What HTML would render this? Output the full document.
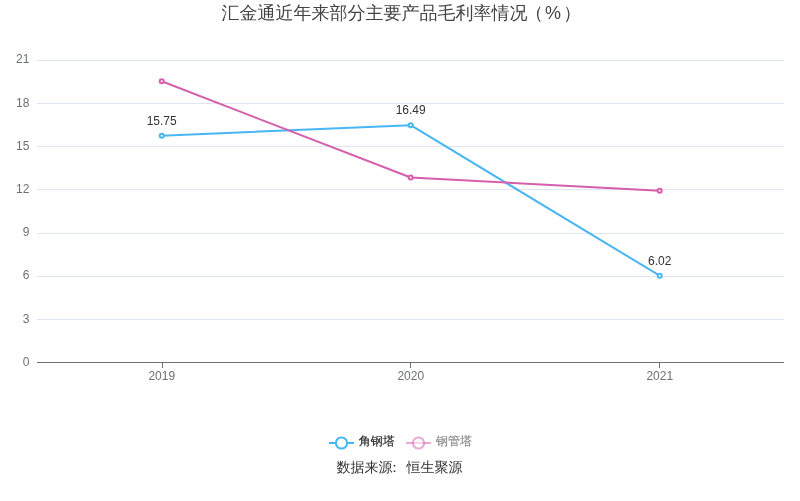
<!DOCTYPE html>
<html lang="zh">
<head>
<meta charset="utf-8">
<title>汇金通近年来部分主要产品毛利率情况（%）</title>
<style>
html,body{margin:0;padding:0;background:#fff;}
body{width:800px;height:501px;overflow:hidden;position:relative;font-family:"Liberation Sans","WenQuanYi Zen Hei",sans-serif;}
svg{position:absolute;left:0;top:0;display:block;}
text{font-family:"Liberation Sans","WenQuanYi Zen Hei",sans-serif;}
.ax{font-size:12px;fill:#6E7079;}
.lb{font-size:12px;fill:#333;}
</style>
</head>
<body>
<svg width="800" height="501" viewBox="0 0 800 501">
  <rect width="800" height="501" fill="#fff"/>
  <text x="221.4" y="19" font-size="18" fill="#444">汇金通近年来部分主要产品毛利率情况<tspan x="525.25">（</tspan><tspan x="545">%</tspan><tspan x="563.25">）</tspan></text>
  <g stroke="#E0E6F1" stroke-width="1" shape-rendering="crispEdges">
    <line x1="37" x2="784" y1="60.5" y2="60.5"/>
    <line x1="37" x2="784" y1="103.5" y2="103.5"/>
    <line x1="37" x2="784" y1="146.5" y2="146.5"/>
    <line x1="37" x2="784" y1="189.5" y2="189.5"/>
    <line x1="37" x2="784" y1="233.5" y2="233.5"/>
    <line x1="37" x2="784" y1="276.5" y2="276.5"/>
    <line x1="37" x2="784" y1="319.5" y2="319.5"/>
  </g>
  <g stroke="#6E7079" stroke-width="1" shape-rendering="crispEdges">
    <line x1="37" x2="784" y1="362.5" y2="362.5"/>
    <line x1="162.5" x2="162.5" y1="362" y2="368"/>
    <line x1="410.5" x2="410.5" y1="362" y2="368"/>
    <line x1="659.5" x2="659.5" y1="362" y2="368"/>
  </g>
  <g class="ax" text-anchor="end">
    <text x="29.4" y="63">21</text>
    <text x="29.4" y="107">18</text>
    <text x="29.4" y="150">15</text>
    <text x="29.4" y="193">12</text>
    <text x="29.4" y="236">9</text>
    <text x="29.4" y="279">6</text>
    <text x="29.4" y="323">3</text>
    <text x="29.4" y="366">0</text>
  </g>
  <g class="ax" text-anchor="middle">
    <text x="161.8" y="380">2019</text>
    <text x="410.8" y="380">2020</text>
    <text x="659.8" y="380">2021</text>
  </g>
  <polyline fill="none" stroke="#48b6f3" stroke-width="2" stroke-linejoin="bevel" points="161.7,135.8 410.7,125.2 659.7,275.7"/>
  <polyline fill="none" stroke="#d75eac" stroke-width="2" stroke-linejoin="bevel" points="161.7,81.3 410.7,177.5 659.7,190.8"/>
  <g fill="#fff" stroke="#48b6f3" stroke-width="2">
    <circle cx="161.7" cy="135.8" r="2"/>
    <circle cx="410.7" cy="125.2" r="2"/>
    <circle cx="659.7" cy="275.7" r="2"/>
  </g>
  <g fill="#fff" stroke="#d75eac" stroke-width="2">
    <circle cx="161.7" cy="81.3" r="2"/>
    <circle cx="410.7" cy="177.5" r="2"/>
    <circle cx="659.7" cy="190.8" r="2"/>
  </g>
  <g class="lb" text-anchor="middle">
    <text x="161.7" y="125">15.75</text>
    <text x="410.7" y="114">16.49</text>
    <text x="659.7" y="265">6.02</text>
  </g>
  <g>
    <line x1="329" x2="354" y1="443" y2="443" stroke="#48b6f3" stroke-width="2"/>
    <circle cx="341.5" cy="443" r="5.6" fill="#fff" stroke="#48b6f3" stroke-width="2"/>
    <text x="358.8" y="445.2" font-size="12" fill="#262626" stroke="#262626" stroke-width="0.15">角钢塔</text>
    <line x1="406" x2="431" y1="443" y2="443" stroke="#d75eac" stroke-width="2" opacity="0.52"/>
    <circle cx="418.5" cy="443" r="5.6" fill="#fff" stroke="#d75eac" stroke-width="2" opacity="0.52"/>
    <text x="436" y="445.2" font-size="12" fill="#8a8a8a" stroke="#8a8a8a" stroke-width="0.15">钢管塔</text>
  </g>
  <text x="399.4" y="472.3" text-anchor="middle" font-size="14" fill="#333">数据来源<tspan dx="-5">：</tspan><tspan dx="5">恒生聚源</tspan></text>
</svg>
</body>
</html>
